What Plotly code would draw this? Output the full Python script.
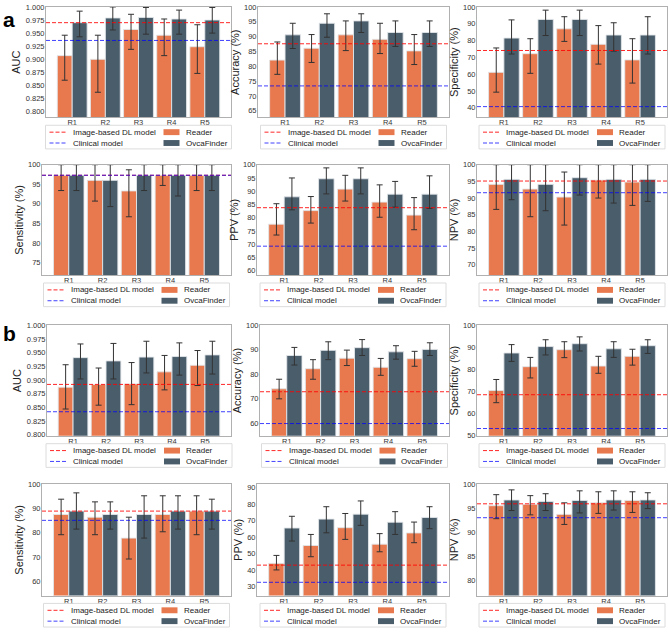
import plotly.graph_objects as go

W, H = 668, 636
FONT = "Liberation Sans, Arial, sans-serif"
READER_COLOR = "#E8784D"
OVCA_COLOR = "#4A5D6B"
DL_COLOR = "rgba(255,0,0,0.85)"
CLIN_COLOR = "rgba(0,0,255,0.75)"
DASH = "4px,2px"

readers = ["R1", "R2", "R3", "R4", "R5"]
series_names = ["Image-based DL model", "Clinical model", "Reader", "OvcaFinder"]

# ---------------- panel a ----------------
a_auc_reader = [0.907, 0.900, 0.957, 0.946, 0.924]
a_auc_reader_lo = [0.860, 0.837, 0.919, 0.907, 0.873]
a_auc_reader_hi = [0.946, 0.946, 0.986, 0.977, 0.966]
a_auc_ovca = [0.970, 0.979, 0.980, 0.977, 0.975]
a_auc_ovca_lo = [0.943, 0.956, 0.948, 0.948, 0.950]
a_auc_ovca_hi = [0.992, 1.000, 0.999, 0.994, 0.999]
a_auc_dl, a_auc_clin = 0.970, 0.936

a_acc_reader = [82.1, 86.1, 90.6, 89.1, 85.2]
a_acc_reader_lo = [77.3, 81.3, 85.3, 84.3, 80.6]
a_acc_reader_hi = [88.2, 90.7, 95.3, 94.5, 90.7]
a_acc_ovca = [90.6, 94.5, 95.3, 91.4, 91.4]
a_acc_ovca_lo = [86.0, 89.8, 91.4, 86.7, 86.7]
a_acc_ovca_hi = [94.5, 97.7, 97.7, 95.3, 95.3]
a_acc_dl, a_acc_clin = 87.6, 73.4

a_spe_reader = [61.1, 72.2, 87.0, 77.8, 68.5]
a_spe_reader_lo = [49.3, 60.5, 79.5, 66.0, 54.7]
a_spe_reader_hi = [75.6, 81.1, 94.2, 88.9, 81.1]
a_spe_ovca = [81.5, 92.6, 92.6, 83.3, 83.3]
a_spe_ovca_lo = [72.0, 83.0, 83.0, 73.7, 72.0]
a_spe_ovca_hi = [92.3, 98.1, 98.1, 90.6, 94.2]
a_spe_dl, a_spe_clin = 74.1, 40.7

a_sen_reader = [97.3, 96.0, 93.3, 97.3, 97.3]
a_sen_reader_lo = [93.4, 90.7, 86.7, 94.7, 93.4]
a_sen_reader_hi = [100.0, 100.0, 98.7, 100.0, 100.0]
a_sen_ovca = [97.3, 96.0, 97.3, 97.3, 97.3]
a_sen_ovca_lo = [93.4, 89.3, 93.4, 92.0, 93.4]
a_sen_ovca_hi = [100.0, 100.0, 100.0, 100.0, 100.0]
a_sen_dl, a_sen_clin = 97.3, 97.3

a_ppv_reader = [77.6, 82.7, 90.8, 85.9, 81.0]
a_ppv_reader_lo = [73.5, 78.0, 86.3, 80.2, 75.5]
a_ppv_reader_hi = [85.3, 88.0, 96.0, 92.4, 87.6]
a_ppv_ovca = [87.9, 94.7, 94.7, 88.9, 88.9]
a_ppv_ovca_lo = [83.0, 89.0, 89.0, 84.0, 83.5]
a_ppv_ovca_hi = [95.0, 98.8, 98.8, 93.7, 95.8]
a_ppv_dl, a_ppv_clin = 83.8, 69.3

a_npv_reader = [94.1, 92.7, 90.3, 95.4, 94.8]
a_npv_reader_lo = [86.6, 84.4, 81.9, 90.0, 87.8]
a_npv_reader_hi = [100.0, 100.0, 97.8, 100.0, 100.0]
a_npv_ovca = [95.6, 94.1, 96.1, 95.6, 95.6]
a_npv_ovca_lo = [89.5, 86.2, 90.9, 88.5, 89.0]
a_npv_ovca_hi = [100.0, 100.0, 100.0, 100.0, 100.0]
a_npv_dl, a_npv_clin = 95.1, 91.6

# ---------------- panel b ----------------
b_auc_reader = [0.887, 0.892, 0.893, 0.915, 0.927]
b_auc_reader_lo = [0.847, 0.854, 0.855, 0.882, 0.890]
b_auc_reader_hi = [0.928, 0.922, 0.932, 0.945, 0.954]
b_auc_ovca = [0.941, 0.935, 0.942, 0.943, 0.946]
b_auc_ovca_lo = [0.902, 0.902, 0.913, 0.909, 0.911]
b_auc_ovca_hi = [0.966, 0.967, 0.971, 0.968, 0.971]
b_auc_dl, b_auc_clin = 0.892, 0.842

b_acc_reader = [74.1, 82.3, 86.6, 82.9, 86.4]
b_acc_reader_lo = [70.0, 78.0, 83.6, 79.6, 83.3]
b_acc_reader_hi = [78.0, 86.0, 89.9, 86.5, 89.4]
b_acc_ovca = [87.7, 89.8, 90.9, 89.2, 90.2]
b_acc_ovca_lo = [83.8, 86.0, 87.7, 86.2, 87.7]
b_acc_ovca_hi = [91.0, 93.3, 94.2, 91.7, 92.9]
b_acc_dl, b_acc_clin = 72.9, 59.9

b_spe_reader = [70.5, 81.3, 89.0, 81.6, 86.0]
b_spe_reader_lo = [65.0, 76.2, 85.4, 78.3, 82.0]
b_spe_reader_hi = [75.5, 85.5, 92.6, 86.0, 89.2]
b_spe_ovca = [87.5, 90.4, 91.7, 89.4, 90.8]
b_spe_ovca_lo = [83.7, 86.6, 88.4, 85.5, 87.3]
b_spe_ovca_hi = [91.3, 93.5, 94.8, 92.6, 93.5]
b_spe_dl, b_spe_clin = 68.6, 53.3

b_sen_reader = [87.5, 86.4, 77.8, 87.5, 88.9]
b_sen_reader_lo = [79.2, 79.2, 69.2, 80.4, 79.2]
b_sen_reader_hi = [93.8, 92.7, 86.4, 95.2, 95.2]
b_sen_ovca = [88.9, 87.5, 87.5, 88.9, 88.9]
b_sen_ovca_lo = [81.5, 81.5, 77.8, 81.5, 81.5]
b_sen_ovca_hi = [96.4, 92.7, 95.2, 95.2, 93.8]
b_sen_dl, b_sen_clin = 88.9, 85.1

b_ppv_reader = [44.0, 54.8, 65.6, 55.6, 62.4]
b_ppv_reader_lo = [40.0, 48.0, 58.5, 51.0, 56.5]
b_ppv_reader_hi = [48.8, 61.5, 74.2, 62.0, 69.0]
b_ppv_ovca = [65.4, 70.8, 73.8, 68.9, 71.8]
b_ppv_ovca_lo = [57.5, 62.5, 67.0, 61.5, 65.0]
b_ppv_ovca_hi = [72.5, 78.3, 81.8, 75.3, 78.3]
b_ppv_dl, b_ppv_clin = 42.9, 32.5

b_npv_reader = [95.5, 95.8, 93.7, 96.1, 96.6]
b_npv_reader_lo = [92.8, 93.6, 91.6, 93.9, 94.1]
b_npv_reader_hi = [97.8, 97.6, 96.1, 98.4, 98.4]
b_npv_ovca = [96.7, 96.4, 96.6, 96.7, 96.7]
b_npv_ovca_lo = [94.5, 94.5, 94.0, 94.6, 94.9]
b_npv_ovca_hi = [98.8, 98.0, 98.6, 98.6, 98.2]
b_npv_dl, b_npv_clin = 95.9, 93.0

# axis tick values
auc_ticks = [0.800, 0.825, 0.850, 0.875, 0.900, 0.925, 0.950, 0.975, 1.000]
a_acc_ticks = [65, 70, 75, 80, 85, 90, 95, 100]
a_spe_ticks = [40, 50, 60, 70, 80, 90, 100]
a_sen_ticks = [75, 80, 85, 90, 95, 100]
a_ppv_ticks = [60, 65, 70, 75, 80, 85, 90, 95, 100]
a_npv_ticks = [70, 75, 80, 85, 90, 95, 100]
b_acc_ticks = [60, 70, 80, 90, 100]
b_spe_ticks = [50, 60, 70, 80, 90, 100]
b_sen_ticks = [60, 70, 80, 90, 100]
b_ppv_ticks = [30, 40, 50, 60, 70, 80, 90]
b_npv_ticks = [80, 85, 90, 95, 100]

subplots = [
    dict(box=(46, 231, 3, 115), title="AUC", yr=[0.789, 1.0], ticks=auc_ticks, fmt=".3f",
         r=(a_auc_reader, a_auc_reader_lo, a_auc_reader_hi), o=(a_auc_ovca, a_auc_ovca_lo, a_auc_ovca_hi),
         dl=a_auc_dl, cl=a_auc_clin),
    dict(box=(258, 449, 3, 115), title="Accuracy (%)", yr=[62.8, 100], ticks=a_acc_ticks, fmt="d",
         r=(a_acc_reader, a_acc_reader_lo, a_acc_reader_hi), o=(a_acc_ovca, a_acc_ovca_lo, a_acc_ovca_hi),
         dl=a_acc_dl, cl=a_acc_clin),
    dict(box=(477, 667, 3, 115), title="Specificity (%)", yr=[34.3, 100], ticks=a_spe_ticks, fmt="d",
         r=(a_spe_reader, a_spe_reader_lo, a_spe_reader_hi), o=(a_spe_ovca, a_spe_ovca_lo, a_spe_ovca_hi),
         dl=a_spe_dl, cl=a_spe_clin),
    dict(box=(42, 231, 163, 275), title="Sensitivity (%)", yr=[71.8, 100], ticks=a_sen_ticks, fmt="d",
         r=(a_sen_reader, a_sen_reader_lo, a_sen_reader_hi), o=(a_sen_ovca, a_sen_ovca_lo, a_sen_ovca_hi),
         dl=a_sen_dl, cl=a_sen_clin),
    dict(box=(257, 449, 163, 275), title="PPV (%)", yr=[58.4, 100], ticks=a_ppv_ticks, fmt="d",
         r=(a_ppv_reader, a_ppv_reader_lo, a_ppv_reader_hi), o=(a_ppv_ovca, a_ppv_ovca_lo, a_ppv_ovca_hi),
         dl=a_ppv_dl, cl=a_ppv_clin),
    dict(box=(477, 667, 163, 275), title="NPV (%)", yr=[66.9, 100], ticks=a_npv_ticks, fmt="d",
         r=(a_npv_reader, a_npv_reader_lo, a_npv_reader_hi), o=(a_npv_ovca, a_npv_ovca_lo, a_npv_ovca_hi),
         dl=a_npv_dl, cl=a_npv_clin),
    dict(box=(47, 231, 326, 438), title="AUC", yr=[0.798, 1.0], ticks=auc_ticks, fmt=".3f",
         r=(b_auc_reader, b_auc_reader_lo, b_auc_reader_hi), o=(b_auc_ovca, b_auc_ovca_lo, b_auc_ovca_hi),
         dl=b_auc_dl, cl=b_auc_clin),
    dict(box=(260, 449, 326, 438), title="Accuracy (%)", yr=[54.9, 100], ticks=b_acc_ticks, fmt="d",
         r=(b_acc_reader, b_acc_reader_lo, b_acc_reader_hi), o=(b_acc_ovca, b_acc_ovca_lo, b_acc_ovca_hi),
         dl=b_acc_dl, cl=b_acc_clin),
    dict(box=(477, 667, 326, 438), title="Specificity (%)", yr=[50, 100], ticks=b_spe_ticks, fmt="d",
         r=(b_spe_reader, b_spe_reader_lo, b_spe_reader_hi), o=(b_spe_ovca, b_spe_ovca_lo, b_spe_ovca_hi),
         dl=b_spe_dl, cl=b_spe_clin),
    dict(box=(42, 231, 487, 600), title="Sensitivity (%)", yr=[54.2, 100], ticks=b_sen_ticks, fmt="d",
         r=(b_sen_reader, b_sen_reader_lo, b_sen_reader_hi), o=(b_sen_ovca, b_sen_ovca_lo, b_sen_ovca_hi),
         dl=b_sen_dl, cl=b_sen_clin),
    dict(box=(257, 449, 487, 600), title="PPV (%)", yr=[24.5, 92], ticks=b_ppv_ticks, fmt="d",
         r=(b_ppv_reader, b_ppv_reader_lo, b_ppv_reader_hi), o=(b_ppv_ovca, b_ppv_ovca_lo, b_ppv_ovca_hi),
         dl=b_ppv_dl, cl=b_ppv_clin),
    dict(box=(477, 667, 487, 600), title="NPV (%)", yr=[76.8, 100], ticks=b_npv_ticks, fmt="d",
         r=(b_npv_reader, b_npv_reader_lo, b_npv_reader_hi), o=(b_npv_ovca, b_npv_ovca_lo, b_npv_ovca_hi),
         dl=b_npv_dl, cl=b_npv_clin),
]

fig = go.Figure()
shapes = []
annotations = []
layout_axes = {}

def px(x):
    return x / W

def py(y):
    return 1 - y / H

positions = list(range(len(readers)))

for i, sp in enumerate(subplots, start=1):
    xa = "x" if i == 1 else f"x{i}"
    ya = "y" if i == 1 else f"y{i}"
    xk = "xaxis" if i == 1 else f"xaxis{i}"
    yk = "yaxis" if i == 1 else f"yaxis{i}"
    l, r, t, b = sp["box"]

    for (vals, lo, hi), color, name, og in [
        (sp["r"], READER_COLOR, "Reader", "reader"),
        (sp["o"], OVCA_COLOR, "OvcaFinder", "ovca"),
    ]:
        fig.add_trace(go.Bar(
            x=positions, y=vals, name=name, offsetgroup=og,
            marker=dict(color=color, line=dict(color="rgba(225,230,233,0.9)", width=1)),
            error_y=dict(type="data", symmetric=False,
                         array=[h - v for h, v in zip(hi, vals)],
                         arrayminus=[v - q for v, q in zip(vals, lo)],
                         color="#333333", thickness=1, width=3),
            xaxis=xa, yaxis=ya, showlegend=False, hoverinfo="skip",
        ))

    # reference horizontal lines across the full axis width
    for val, col in [(sp["dl"], DL_COLOR), (sp["cl"], CLIN_COLOR)]:
        shapes.append(dict(type="line", xref=f"{xa} domain", yref=ya, x0=0, x1=1,
                           y0=val, y1=val, layer="above",
                           line=dict(color=col, width=1, dash=DASH)))

    layout_axes[xk] = dict(
        domain=[px(l), px(r)], anchor=ya, range=[-0.79, 4.79],
        tickvals=positions, ticktext=readers, showgrid=False, zeroline=False,
        showline=True, mirror=True, linecolor="#b0b0b0", linewidth=1,
        ticks="", ticklabelstandoff=-2, tickfont=dict(family=FONT, size=7.5, color="#333"),
    )
    layout_axes[yk] = dict(
        domain=[py(b), py(t)], anchor=xa, range=sp["yr"],
        tickvals=sp["ticks"], tickformat=sp["fmt"], showgrid=False, zeroline=False,
        showline=True, mirror=True, linecolor="#b0b0b0", linewidth=1,
        ticks="", ticklabelstandoff=-1, tickfont=dict(family=FONT, size=7.5, color="#333"),
        title=dict(text=sp["title"], standoff=2, font=dict(family=FONT, size=11, color="#222")),
    )

    # legend box below the subplot (2 x 2 layout)
    cx = (l + r) / 2
    lw, lh = 186, 24
    bx0 = cx - lw / 2
    by0 = b + 8
    shapes.append(dict(type="rect", xref="paper", yref="paper",
                       x0=px(bx0), x1=px(bx0 + lw), y0=py(by0 + lh), y1=py(by0),
                       line=dict(color="#dcdcdc", width=1), fillcolor="rgba(255,255,255,0)", layer="above"))
    rows = [by0 + 7, by0 + 18]
    for (label, col), yy in zip([(series_names[0], DL_COLOR), (series_names[1], CLIN_COLOR)], rows):
        shapes.append(dict(type="line", xref="paper", yref="paper",
                           x0=px(bx0 + 4), x1=px(bx0 + 22), y0=py(yy), y1=py(yy),
                           line=dict(color=col, width=1, dash=DASH), layer="above"))
        annotations.append(dict(text=label, xref="paper", yref="paper", x=px(bx0 + 25), y=py(yy),
                                xanchor="left", yanchor="middle", showarrow=False,
                                font=dict(family=FONT, size=8, color="#222")))
    for (label, col), yy in zip([(series_names[2], READER_COLOR), (series_names[3], OVCA_COLOR)], rows):
        shapes.append(dict(type="rect", xref="paper", yref="paper",
                           x0=px(bx0 + 118), x1=px(bx0 + 134), y0=py(yy + 3), y1=py(yy - 3),
                           line=dict(width=0), fillcolor=col, layer="above"))
        annotations.append(dict(text=label, xref="paper", yref="paper", x=px(bx0 + 138), y=py(yy),
                                xanchor="left", yanchor="middle", showarrow=False,
                                font=dict(family=FONT, size=8, color="#222")))

# panel letters
for letter, ytop in [("a", 2), ("b", 321)]:
    annotations.append(dict(text=f"<b>{letter}</b>", xref="paper", yref="paper",
                            x=px(1), y=py(ytop), xanchor="left", yanchor="top", showarrow=False,
                            font=dict(family=FONT, size=21, color="black")))

fig.update_layout(
    width=W, height=H, margin=dict(l=0, r=0, t=0, b=0),
    paper_bgcolor="white", plot_bgcolor="white",
    barmode="group", bargap=0.1, bargroupgap=0,
    showlegend=False, shapes=shapes, annotations=annotations,
    font=dict(family=FONT),
    **layout_axes,
)

fig.write_html("out.html", config={"displayModeBar": False},
               post_script="document.body.style.margin='0';")
